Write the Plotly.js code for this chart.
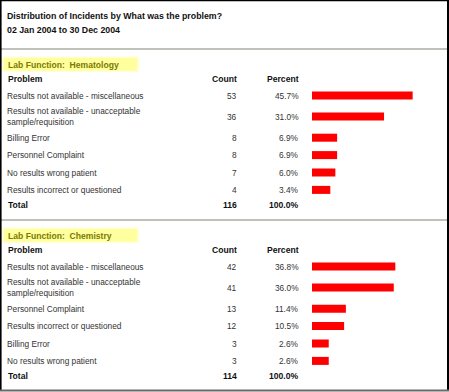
<!DOCTYPE html>
<html>
<head>
<meta charset="utf-8">
<script src="https://cdn.plot.ly/plotly-3.0.1.min.js"></script>
<style>html,body{margin:0;padding:0;background:#fff;}#chart{width:449px;height:392px;}</style>
</head>
<body>
<div id="chart"></div>
<script>
// ---- Data ----
const reportTitle = "Distribution of Incidents by What was the problem?";
const reportPeriod = "02 Jan 2004 to 30 Dec 2004";
const columnHeaders = ["Problem", "Count", "Percent"];

const hemaName = "Hematology";
const hemaProblems = ["Results not available - miscellaneous", "Results not available - unacceptable<br>sample/requisition", "Billing Error", "Personnel Complaint", "No results wrong patient", "Results incorrect or questioned"];
const hemaCounts = [53, 36, 8, 8, 7, 4];
const hemaPercent = [45.7, 31.0, 6.9, 6.9, 6.0, 3.4];
const hemaTotal = 116;
const hemaTotalPercent = 100.0;

const chemName = "Chemistry";
const chemProblems = ["Results not available - miscellaneous", "Results not available - unacceptable<br>sample/requisition", "Personnel Complaint", "Results incorrect or questioned", "Billing Error", "No results wrong patient"];
const chemCounts = [42, 41, 13, 12, 3, 3];
const chemPercent = [36.8, 36.0, 11.4, 10.5, 2.6, 2.6];
const chemTotal = 114;
const chemTotalPercent = 100.0;

// ---- Layout constants (pixels) ----
const W = 449, H = 392;
const px = x => x / W;
const FONT = "Liberation Sans, Arial, sans-serif";
const BAR_STUB = 6;          // minimum bar stub (in % units) drawn by the report
const ROW_H = 17.4, LINE_EXTRA = 7.4;

const annotations = [];
const shapes = [];
const barY = [], barX = [];

function text(x, y, t, opts) {
  annotations.push(Object.assign({
    xref: 'paper', yref: 'y', x: px(x), y: y, text: t, showarrow: false,
    xanchor: 'left', yanchor: 'middle', align: 'left', borderpad: 0, borderwidth: 0,
    font: {family: FONT, size: 8.3, color: '#333'}
  }, opts || {}));
}

// title
text(7, 16, "<b>" + reportTitle + "</b>", {font: {family: FONT, size: 8.8, color: '#111'}});
text(7, 29.5, "<b>" + reportPeriod + "</b>", {font: {family: FONT, size: 8.8, color: '#111'}});

function section(sepY, name, problems, counts, pct, total, totalPct) {
  shapes.push({type: 'line', xref: 'paper', yref: 'y', x0: 0, x1: 1, y0: sepY, y1: sepY,
    line: {color: '#c2c2bc', width: 1.8}});
  // highlight behind section title
  shapes.push({type: 'rect', xref: 'paper', yref: 'y', x0: px(2), x1: px(139), y0: sepY + 7.5, y1: sepY + 23,
    fillcolor: '#ffffd2', line: {width: 0}, layer: 'below'});
  shapes.push({type: 'rect', xref: 'paper', yref: 'y', x0: px(4), x1: px(137), y0: sepY + 9, y1: sepY + 21.5,
    fillcolor: '#ffff9e', line: {width: 0}, layer: 'below'});
  text(8, sepY + 15.5, "<b>Lab Function:\u00a0 " + name + "</b>", {font: {family: FONT, size: 8.6, color: '#7a7a00'}});
  const hy = sepY + 30;
  const hf = {family: FONT, size: 8.6, color: '#111'};
  text(8, hy, "<b>" + columnHeaders[0] + "</b>", {font: hf});
  text(237, hy, "<b>" + columnHeaders[1] + "</b>", {font: hf, xanchor: 'right', align: 'right'});
  text(299, hy, "<b>" + columnHeaders[2] + "</b>", {font: hf, xanchor: 'right', align: 'right'});
  let y = sepY + 37.8;
  problems.forEach((p, i) => {
    const lines = p.split('<br>').length;
    const rh = ROW_H + (lines - 1) * LINE_EXTRA;
    const c = y + rh / 2;
    text(7, c, p);
    text(237, c, String(counts[i]), {xanchor: 'right', align: 'right'});
    text(299, c, pct[i].toFixed(1) + '%', {xanchor: 'right', align: 'right'});
    barY.push(c); barX.push(pct[i]);
    y += rh;
  });
  const ty = y + 6.1;
  text(8, ty, "<b>Total</b>", {font: hf});
  text(237, ty, "<b>" + total + "</b>", {font: hf, xanchor: 'right', align: 'right'});
  text(299, ty, "<b>" + totalPct.toFixed(1) + "%</b>", {font: hf, xanchor: 'right', align: 'right'});
  return ty + 15.3;
}

let next = section(49, hemaName, hemaProblems, hemaCounts, hemaPercent, hemaTotal, hemaTotalPercent);
section(next, chemName, chemProblems, chemCounts, chemPercent, chemTotal, chemTotalPercent);

// frame
shapes.push({type: 'line', xref: 'paper', yref: 'y', x0: px(0.8), x1: px(0.8), y0: 0, y1: 390, line: {color: '#000', width: 1.6}});
shapes.push({type: 'line', xref: 'paper', yref: 'y', x0: 0, x1: 1, y0: 0.6, y1: 0.6, line: {color: '#000', width: 1.2}});
shapes.push({type: 'line', xref: 'paper', yref: 'y', x0: px(448), x1: px(448), y0: 0, y1: 390, line: {color: '#000', width: 2}});
shapes.push({type: 'line', xref: 'paper', yref: 'y', x0: 0, x1: 1, y0: 390.5, y1: 390.5, line: {color: '#6a6a6a', width: 2}});

const barPxPerPct = 1.947;
const barLeft = 312;
const trace = {
  type: 'bar', orientation: 'h',
  y: barY, x: barX.map(v => v + BAR_STUB), base: -BAR_STUB,
  width: 8, marker: {color: '#ff0000', line: {width: 0}},
  hoverinfo: 'none', xaxis: 'x', yaxis: 'y'
};

const layout = {
  width: W, height: H, margin: {l: 0, r: 0, t: 0, b: 0, pad: 0},
  paper_bgcolor: '#fff', plot_bgcolor: 'rgba(0,0,0,0)', showlegend: false,
  xaxis: {domain: [px(barLeft), 1], range: [-BAR_STUB, -BAR_STUB + (W - barLeft) / barPxPerPct], visible: false, fixedrange: true},
  yaxis: {domain: [0, 1], range: [H, 0], visible: false, fixedrange: true},
  annotations: annotations, shapes: shapes
};

Plotly.newPlot('chart', [trace], layout, {displayModeBar: false, staticPlot: true});
</script>
</body>
</html>
